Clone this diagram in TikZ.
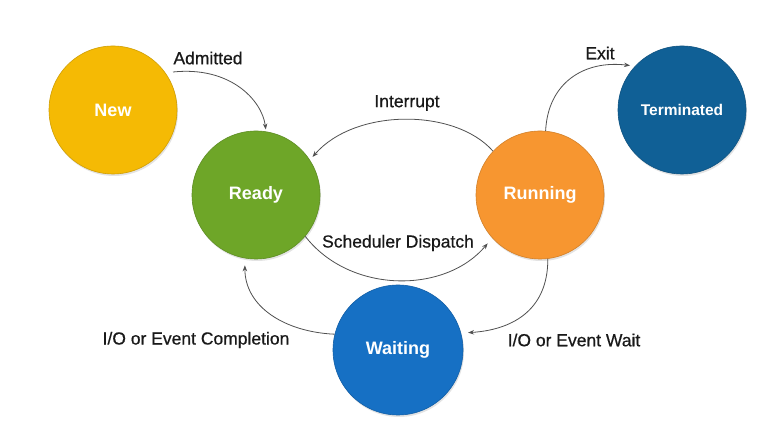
\documentclass[tikz,border=0pt]{standalone}
\usepackage{fontspec}
\setmainfont{Liberation Sans}
\newfontfamily\lblfont[FakeBold=0.6]{Liberation Sans}
\usetikzlibrary{arrows.meta,shadows}
\definecolor{cnew}{RGB}{245,186,4}
\definecolor{cready}{RGB}{110,166,40}
\definecolor{crun}{RGB}{247,150,48}
\definecolor{cterm}{RGB}{16,96,150}
\definecolor{cwait}{RGB}{22,112,196}
\definecolor{cline}{RGB}{80,80,80}
\tikzset{
  state/.style={circle, minimum size=128pt, inner sep=0pt, text=white,
    font=\bfseries\fontsize{18}{20}\selectfont,
    draw=#1!85!black, line width=0.6pt, fill=#1,
    drop shadow={opacity=0.22, shadow xshift=1pt, shadow yshift=-2pt}},
  lbl/.style={text=black!90, font=\lblfont\fontsize{17.5}{20}\selectfont, inner sep=1pt},
  conn/.style={draw=cline, line width=0.8pt, -{Stealth[length=6pt,width=4.5pt]}, shorten >=#1},
  conn/.default=2pt
}
\begin{document}
\begin{tikzpicture}[x=1pt,y=1pt]
\useasboundingbox[fill=white] (0,0) rectangle (784,422);
% states
\node[state=cnew]  (new)  at (113,312) {New};
\node[state=cready](ready) at (256,227) {Ready};
\node[state=crun]  (run)  at (540,227) {Running};
\node[state=cterm, font=\bfseries\fontsize{15.5}{18}\selectfont] (term) at (682,312) {Terminated};
\node[state=cwait, minimum size=130pt] (wait) at (398,72) {Waiting};
% labels
\node[lbl] (ladm)  at (208,364) {Admitted};
\node[lbl] (lint)  at (407,319) {Interrupt};
\node[lbl] (lsch)  at (398,179) {Scheduler Dispatch};
\node[lbl] (lexit) at (600,369) {Exit};
\node[lbl] (lcomp) at (196,82) {I/O or Event Completion};
\node[lbl] (lwait) at (574,82) {I/O or Event Wait};
% connectors
\coordinate (admstart) at (173,350);
\draw[conn=2pt] (admstart) .. controls (230,356) and (262,322) .. (ready.81);
\draw[conn=4pt] (run.137) .. controls (455,314) and (355,314) .. (ready.33);
\draw[conn=7pt] (ready.-40) .. controls (350,128) and (445,128) .. (run.222);
\draw[conn=5pt] (run.85) .. controls (548,340) and (585,362) .. (term.137);
\draw[conn=7pt] (run.-83) .. controls (548,110) and (510,92) .. (wait.15);
\draw[conn=7pt] (wait.166) .. controls (285,90) and (245,115) .. (ready.260);
\end{tikzpicture}
\end{document}
